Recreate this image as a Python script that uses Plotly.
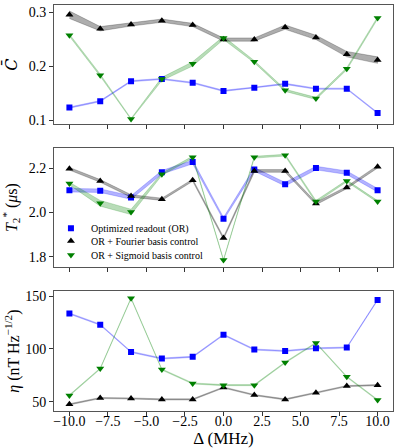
import plotly.graph_objects as go
from plotly.subplots import make_subplots

# detuning (MHz)
delta = [-10, -8, -6, -4, -2, 0, 2, 4, 6, 8, 10]

# mean contrast C-bar
c_or = [0.124, 0.136, 0.173, 0.177, 0.170, 0.155, 0.161, 0.168, 0.159, 0.159, 0.114]
c_four = [0.296, 0.270, 0.278, 0.285, 0.277, 0.250, 0.250, 0.273, 0.254, 0.223, 0.212]
c_sig = [0.258, 0.184, 0.103, 0.177, 0.205, 0.253, 0.209, 0.156, 0.141, 0.196, 0.290]
c_or_err = [0.001, 0.001, 0.001, 0.001, 0.001, 0.001, 0.001, 0.001, 0.001, 0.001, 0.001]
c_four_err = [0.007, 0.004, 0.003, 0.003, 0.003, 0.003, 0.003, 0.004, 0.004, 0.005, 0.006]
c_sig_err = [0.002, 0.002, 0.001, 0.003, 0.004, 0.003, 0.002, 0.002, 0.002, 0.002, 0.002]

# T2* (us)
t2_or = [2.100, 2.098, 2.067, 2.181, 2.227, 1.971, 2.194, 2.127, 2.200, 2.179, 2.100]
t2_four = [2.197, 2.142, 2.074, 2.059, 2.145, 1.884, 2.187, 2.187, 2.040, 2.112, 2.206]
t2_sig = [2.130, 2.041, 2.002, 2.172, 2.249, 1.785, 2.249, 2.258, 2.049, 2.142, 2.049]
t2_or_err = [0.008, 0.008, 0.008, 0.008, 0.008, 0.006, 0.008, 0.008, 0.008, 0.008, 0.008]
t2_four_err = [0.006, 0.006, 0.006, 0.005, 0.005, 0.005, 0.006, 0.006, 0.006, 0.005, 0.006]
t2_sig_err = [0.006, 0.013, 0.012, 0.005, 0.005, 0.002, 0.004, 0.004, 0.005, 0.004, 0.004]

# sensitivity eta (nT Hz^-1/2)
eta_or = [133.6, 123.0, 97.2, 90.9, 92.5, 113.5, 99.4, 98.1, 100.6, 101.3, 146.5]
eta_four = [47.5, 53.5, 53.1, 52.2, 52.2, 63.5, 56.3, 52.2, 58.5, 64.8, 65.7]
eta_sig = [56.0, 81.4, 148.1, 80.5, 67.3, 65.7, 65.7, 87.1, 105.7, 73.6, 51.6]
eta_or_err = [0.5] * 11
eta_four_err = [0.5] * 11
eta_sig_err = [0.5] * 11

names = ["Optimized readout (OR)", "OR + Fourier basis control", "OR + Sigmoid basis control"]
marker_colors = ["#0000ff", "#000000", "#008000"]
band_colors = ["rgba(0,0,255,0.3)", "rgba(0,0,0,0.32)", "rgba(0,128,0,0.28)"]
symbols = ["square", "triangle-up", "triangle-down"]
sizes = [6, 7, 7]
legend_ids = ["legend", "legend2", "legend3"]

panels = [
    ([c_or, c_four, c_sig], [c_or_err, c_four_err, c_sig_err]),
    ([t2_or, t2_four, t2_sig], [t2_or_err, t2_four_err, t2_sig_err]),
    ([eta_or, eta_four, eta_sig], [eta_or_err, eta_four_err, eta_sig_err]),
]

fig = make_subplots(rows=3, cols=1, shared_xaxes=True)

for row, (series, errs) in enumerate(panels, start=1):
    for i in range(3):
        y = series[i]
        e = errs[i]
        upper = [a + b for a, b in zip(y, e)]
        lower = [a - b for a, b in zip(y, e)]
        fig.add_trace(go.Scatter(
            x=delta + delta[::-1], y=upper + lower[::-1],
            fill='toself', fillcolor=band_colors[i],
            line=dict(color=band_colors[i], width=0.7),
            mode='lines', hoverinfo='skip', showlegend=False,
        ), row=row, col=1)
    for i in range(3):
        fig.add_trace(go.Scatter(
            x=delta, y=series[i], mode='markers', name=names[i],
            marker=dict(symbol=symbols[i], color=marker_colors[i], size=sizes[i]),
            showlegend=(row == 2), legend=legend_ids[i],
        ), row=row, col=1)

axis_style = dict(showline=True, mirror=True, linecolor='#555555', linewidth=1,
                  ticks='outside', ticklen=4, tickcolor='#333333', showgrid=False,
                  zeroline=False, tickfont=dict(size=14, color='black'))

fig.update_xaxes(**axis_style, range=[-11, 11], tickvals=[-10, -7.5, -5, -2.5, 0, 2.5, 5, 7.5, 10])
fig.update_xaxes(tickformat='.1f', ticklabelstandoff=-7,
                 title=dict(text='Δ (MHz)', font=dict(size=17), standoff=0), row=3, col=1)
fig.update_yaxes(**axis_style)

fig.update_layout(
    yaxis=dict(domain=[0.706, 1.0], range=[0.093, 0.314], tickvals=[0.1, 0.2, 0.3],
               title=dict(text='<i>C̄</i>', font=dict(size=16, family='DejaVu Serif'), standoff=7)),
    yaxis2=dict(domain=[0.354, 0.648], range=[1.752, 2.291], tickvals=[1.8, 2.0, 2.2],
                tickformat='.1f',
                title=dict(text='<i>T</i><sub>2</sub><sup>*</sup> (<i>μ</i>s)', font=dict(size=16), standoff=8)),
    yaxis3=dict(domain=[0.0, 0.295], range=[41.2, 154.7], tickvals=[50, 100, 150],
                title=dict(text='<i>η</i> (nT Hz<sup>−1/2</sup>)', font=dict(size=16), standoff=1)),
)

leg_y = [0.450, 0.419, 0.384]
leg = {}
for lid, yy in zip(legend_ids, leg_y):
    leg[lid] = dict(x=-0.009, y=yy, xanchor='left', yanchor='middle',
                    bgcolor='rgba(255,255,255,0)', font=dict(size=10))

fig.update_layout(
    width=399, height=448,
    margin=dict(l=54, r=6, t=3, b=37),
    paper_bgcolor='white', plot_bgcolor='white',
    font=dict(family='Liberation Serif', color='black'),
    showlegend=True,
    **leg,
)

fig.write_html("out.html", config={'displayModeBar': False},
               post_script="document.body.style.margin='0';")
